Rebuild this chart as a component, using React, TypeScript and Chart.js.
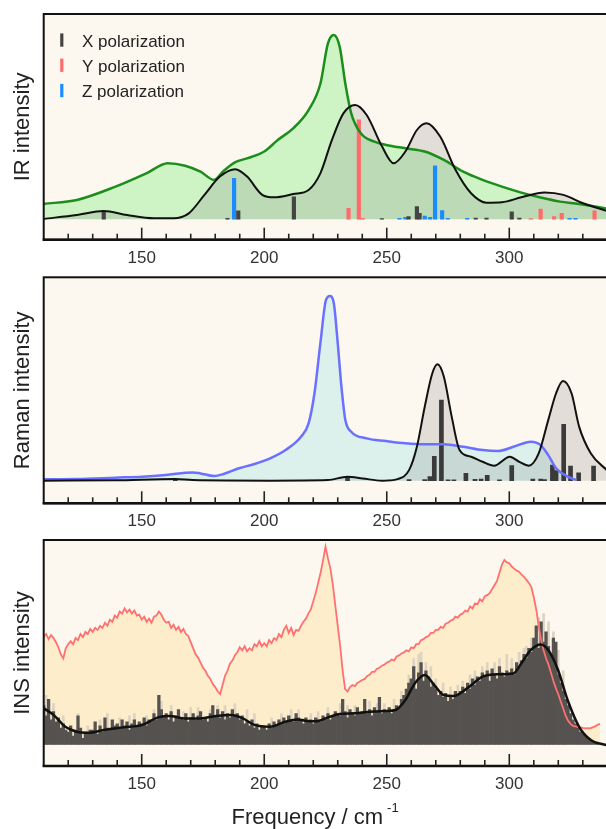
import React, { useEffect, useRef } from 'react';
import { Chart, registerables } from 'chart.js';

Chart.register(...registerables);

const FONT = "'Liberation Sans', Arial, Helvetica, sans-serif";
Chart.defaults.font.family = FONT;

// ---------- shared axis ----------
const X_MIN = 110;
const X_MAX = 340;
const tickLabels = [150, 200, 250, 300];

// ---------- IR panel ----------
const irExpX = [110, 123.5, 139.3, 151.9, 160.6, 167.7, 174, 179.5, 183.4, 188.2, 193, 200, 205.5, 211.8, 218.1, 222.9, 226, 228.4, 230.8, 233.1, 235.5, 239.4, 245, 249.8, 257.6, 265.5, 273.3, 281.2, 289.1, 297, 304.9, 312.8, 320.7, 328.5, 340];
const irExpY = [7.5, 9.4, 15.9, 22.4, 27.3, 26.1, 23.2, 19.2, 23.5, 27.8, 29.7, 33, 38.6, 44.3, 53.2, 66, 85.7, 89.8, 84, 66, 51.6, 41.9, 37.8, 36.2, 34.6, 33, 28.9, 23.2, 19.2, 15.9, 13, 10.6, 8.6, 7.5, 5.2];
const irCalcX = [110, 123.5, 134.5, 144, 155, 163, 169.2, 175.6, 181.9, 188.2, 193, 199.2, 204, 211.8, 218.1, 222.9, 227.6, 232.3, 237.1, 241.8, 248.1, 252.8, 257.6, 262.3, 266.2, 271.8, 278.1, 284.4, 290.7, 297, 304.9, 314.4, 322.1, 330.1, 340];
const irCalcY = [0.2, 2.1, 4.1, 2.1, 0.5, 0.5, 2.9, 11.9, 20.8, 24.4, 20.8, 11.9, 10.7, 12.3, 14.3, 22.4, 38.6, 51.6, 55.7, 50.8, 35.4, 27.3, 33, 43.5, 46.8, 40.3, 24, 12.7, 8.1, 8.3, 10.7, 13.1, 11.9, 7.8, 4];
const irXPolPos = [134.5, 185, 189.4, 212.1, 248, 258.9, 262.3, 263.4, 286.3, 290.7, 301, 304.1];
const irXPolInt = [3.7, 0.5, 4.1, 11, 0.3, 1.3, 6.2, 2.9, 0.6, 0.6, 3.6, 0.6];
const irYPolPos = [234.4, 238.6, 240.2, 308.8, 312.8, 318.3, 321.4, 334.8];
const irYPolInt = [5.4, 48.4, 0.5, 0.3, 5, 1.3, 2.9, 4.1];
const irZPolPos = [187.7, 255.2, 257.6, 265.5, 267.7, 269.7, 272.6, 274.9, 282.8, 324.6, 327];
const irZPolInt = [20, 0.5, 1, 1.6, 1, 26.1, 4.2, 0.5, 0.5, 0.5, 0.5];
const irLegend = ['X polarization', 'Y polarization', 'Z polarization'];

// ---------- Raman panel ----------
const ramanExpX = [110, 123.5, 139.3, 150.3, 159.8, 170.8, 174, 179.5, 183.4, 189.7, 196, 202.4, 208.7, 215, 218.1, 220.5, 222.9, 225.2, 226.8, 228.4, 230, 231.5, 233.1, 235.5, 241.8, 249.7, 257.6, 265.5, 273.3, 281.2, 289.1, 295.4, 301.7, 308.8, 312.8, 315.9, 319.1, 323.8, 327.5];
const ramanExpY = [0.7, 0.8, 1.5, 2, 2.8, 4.1, 3.6, 2.3, 3.3, 6.1, 8.2, 11, 15.1, 21.6, 28.2, 43, 67.5, 88.9, 90.8, 87.2, 67.5, 46.2, 29.8, 24.1, 20.8, 19.5, 18.4, 17.9, 17.9, 16.7, 15.1, 14.6, 16.7, 19.2, 17.5, 12.6, 6.1, 2, 0.3];
const ramanCalcX = [110, 139.3, 163.7, 170.8, 202.4, 226, 233.9, 240.2, 248.1, 254.4, 259.1, 262.3, 265.5, 268.6, 270.7, 273.3, 276.5, 279.7, 284.4, 289.1, 293.8, 300.2, 304.1, 308, 312, 315.9, 319.1, 321.9, 325.4, 328.5, 333.3, 340];
const ramanCalcY = [0, 0.2, 0.8, 0.3, 0, 0.3, 2, 1.1, 0, 0.8, 5.2, 16.7, 36.4, 52.8, 57.2, 51.1, 31.5, 15.1, 11.8, 9.3, 7.4, 11.8, 9.3, 7.4, 13.4, 29.8, 43, 49, 43, 26.6, 13.4, 5];
const ramanBarPos = [163.7, 234, 250.6, 259.1, 265.5, 267.6, 269.4, 272.3, 275, 277.4, 282.3, 286, 288.5, 291, 296, 301, 309.6, 312.8, 314.4, 317.6, 319.1, 322.2, 325, 328.3, 334.4];
const ramanBarInt = [0.7, 2, 0.3, 0.5, 0.6, 2, 12, 39.7, 0.4, 0.4, 3.6, 0.7, 0.8, 2.6, 0.4, 7.4, 0.8, 0.8, 0.5, 7.7, 5, 27.7, 7.2, 3.9, 7.2];

// ---------- INS panel ----------
const insExpStart = 110; // one point per cm-1
const insExpY = [
  52.7, 54, 51.5, 53.5, 52, 50, 47.5, 44, 42, 47,
  49, 50.5, 49, 52, 51, 54, 52.5, 55, 54, 56.5,
  55, 57, 56, 58, 57, 59.5, 58, 61, 60, 63,
  62, 65, 64, 66.5, 64.5, 66, 64, 65.5, 63, 63.5,
  61, 62.5, 60, 61.5, 59.5, 62.5, 63, 65, 63.5, 61,
  59.5, 60, 57, 58.5, 56, 57.5, 55, 56.5, 54, 53,
  50, 47, 44, 42.5, 40, 37.5, 36, 33.5, 32, 29.5,
  28, 26, 24.6, 29, 33.5, 36, 39.5, 41, 43.5, 45,
  47.5, 46, 48, 45.5, 47, 46, 49, 48, 50.5, 48,
  49.5, 48, 51, 49.5, 52, 51, 54, 52.5, 56, 58,
  54.5, 57, 53.5, 56, 55.5, 58, 60, 61.5, 64, 66,
  70, 74, 79, 84, 90, 96.7, 91, 86, 78, 68,
  58, 48, 36, 27, 25.8, 28, 29, 28.5, 30, 30.7,
  31.5, 32, 33.5, 34, 35.5, 35.5, 37, 37.5, 38.5, 39,
  40, 40.5, 41.5, 41, 43, 43.5, 44.5, 45, 46, 45.5,
  47.5, 47, 49, 49, 51, 51.5, 52.5, 53, 54.5, 54.5,
  56, 56, 57.5, 57, 59, 59.5, 60.5, 61, 62.5, 62,
  63.5, 64, 65.5, 65, 67.5, 66.5, 69, 68.5, 71, 70,
  72.5, 73, 74, 76, 78, 80, 84, 88, 90.2, 89,
  88.6, 87, 86, 85, 84.5, 83, 82, 80.5, 79, 77,
  72, 66, 58, 51, 46, 42, 39, 35, 31, 27.5,
  24.5, 21, 17.5, 14, 11.5, 10, 9, 8.8, 8.6, 8.3,
  8, 7.8, 7.9, 7.8, 8.3, 8.8, 9.5, 10,
];
const insBinStart = 110; // one histogram bin per cm-1
const insDarkBars = [
  19, 14, 22, 12, 16, 11, 13, 8, 10, 7,
  6, 9, 4, 7, 14, 8, 3, 6, 5, 7,
  7, 11, 5, 9, 6, 13, 8, 7, 12, 9,
  10, 8, 12, 9, 11, 7, 10, 12, 9, 11,
  10, 13, 9, 12, 11, 15, 12, 24, 17, 14,
  15, 12, 16, 11, 14, 17, 13, 12, 15, 11,
  13, 15, 12, 14, 16, 12, 13, 11, 15, 19,
  14, 17, 13, 16, 12, 15, 13, 17, 14, 15,
  12, 14, 10, 11, 9, 12, 8, 10, 7, 9,
  9, 7, 10, 8, 11, 9, 12, 10, 13, 11,
  14, 12, 11, 15, 13, 12, 10, 13, 11, 12,
  10, 13, 12, 11, 14, 13, 15, 12, 14, 16,
  15, 14, 22, 16, 13, 17, 15, 14, 18, 15,
  16, 22, 15, 17, 14, 18, 16, 23, 15, 17,
  16, 18, 15, 17, 19, 18, 22, 24, 27, 30,
  32, 38, 27, 35, 40, 31, 36, 33, 28, 30,
  27, 24, 26, 23, 25, 21, 24, 22, 26, 24,
  26, 28, 25, 30, 27, 32, 29, 33, 31, 35,
  33, 36, 31, 37, 34, 32, 38, 35, 33, 36,
  35, 37, 34, 40, 38, 41, 44, 42, 47, 45,
  52, 58, 47, 60, 50, 55, 48, 44, 52, 50,
  34, 30, 26, 22, 19, 15, 12, 10, 8, 6,
  5, 4, 3, 2, 1.5, 1, 0.5,
];
const insLightPos = [111, 114, 118, 124, 128, 133, 136, 141, 145, 147, 152, 155, 158, 162, 167, 170, 173, 178, 181, 184, 188, 193, 196, 203, 207, 211, 214, 219, 222, 226, 231, 234, 237, 243, 246, 249, 253, 256, 259, 261, 263, 264, 266, 268, 270, 273, 276, 279, 281, 284, 286, 289, 291, 294, 296, 299, 301, 304, 306, 307, 309, 312, 314, 316, 318, 320, 322];
const insLightInt = [24, 20, 14, 15, 9, 12, 15, 13, 14, 15, 14, 17, 21, 19, 16, 18, 18, 17, 19, 19, 20, 17, 15, 13, 15, 17, 17, 15, 16, 18, 20, 19, 19, 21, 20, 20, 22, 26, 34, 42, 44, 45, 40, 38, 32, 30, 28, 29, 31, 34, 36, 38, 40, 40, 42, 44, 42, 45, 47, 48, 52, 62, 64, 60, 55, 46, 36];
const insCalcX = [110, 114, 118.8, 123.5, 128.2, 134.5, 142.4, 150.3, 156.6, 161.4, 167.7, 174, 180.3, 186.6, 191.3, 196, 202.4, 208.7, 213.4, 216.6, 221.3, 226, 230.8, 237.1, 243.4, 249.7, 253.6, 257.6, 261.5, 265.5, 269.4, 273.3, 277.3, 282.8, 289.1, 295.4, 301.7, 304.9, 308.8, 312.8, 315.9, 319.9, 323.8, 328.5, 333.3, 340];
const insCalcY = [17.6, 14.4, 8.6, 6.2, 5.7, 7, 8.3, 9.5, 13.2, 13.9, 12.7, 12.7, 13.9, 14.4, 12.7, 9.5, 8.6, 11.1, 12.2, 11.6, 11.3, 13.2, 14.8, 15.2, 16, 16.3, 16.8, 21.7, 29.9, 33.9, 29, 24.1, 23.7, 27.4, 33.1, 34.3, 34.7, 39.6, 46.2, 48.9, 46.2, 36.4, 21.7, 8.6, 2.1, -0.5];

// ---------- helpers ----------
const pts = (xs: number[], ys: number[]) => xs.map((x, i) => ({ x, y: ys[i] }));
const seq = (start: number, ys: number[]) => ys.map((y, i) => ({ x: start + i, y }));

const CANVAS_W = 620;
const AREA_LEFT = 43.7;
const AREA_RIGHT = 607.3;
const BG = '#fdf8ef';

const COLORS = {
  black: '#111111',
  gray: 'rgba(120,120,120,0.2)',
  green: '#1b8e1b',
  greenFill: 'rgba(130,235,130,0.38)',
  blue: '#6a70ff',
  blueFill: 'rgba(175,232,232,0.42)',
  red: '#ff7070',
  redFill: 'rgba(255,222,150,0.42)',
  xPol: '#444444',
  yPol: '#ff6b6b',
  zPol: '#1a8cff',
  dark: '#555250',
  light: '#dcd3c2',
};

const lineFill = (data: any[], color: string, order: number) => ({
  type: 'line', data, fill: 'origin', backgroundColor: color, borderWidth: 0,
  borderColor: 'rgba(0,0,0,0)', pointRadius: 0, cubicInterpolationMode: 'monotone', order,
});
const lineStroke = (data: any[], color: string, width: number, order: number, smooth = true) => ({
  type: 'line', data, fill: false, borderColor: color, borderWidth: width, pointRadius: 0,
  cubicInterpolationMode: smooth ? 'monotone' : 'default', tension: 0, order,
});
const bars = (data: any[], color: string, thickness: number, order: number) => ({
  type: 'bar', data, backgroundColor: color, borderWidth: 0, barThickness: thickness,
  grouped: false, order,
});

type PanelDef = {
  top: number; height: number; areaTop: number; areaBottom: number;
  yMin: number; yMax: number; yTitle: string; legend?: boolean; xTitle?: boolean;
  datasets: any[];
};

const panels: PanelDef[] = [
  {
    top: 0, height: 270, areaTop: 14, areaBottom: 239.7, yMin: -9.94, yMax: 100,
    yTitle: 'IR intensity', legend: true,
    datasets: [
      lineFill(pts(irExpX, irExpY), COLORS.greenFill, 10),
      lineFill(pts(irCalcX, irCalcY), COLORS.gray, 9),
      bars(pts(irXPolPos, irXPolInt), COLORS.xPol, 3.5, 5),
      bars(pts(irYPolPos, irYPolInt), COLORS.yPol, 3.5, 5),
      bars(pts(irZPolPos, irZPolInt), COLORS.zPol, 3.5, 5),
      lineStroke(pts(irExpX, irExpY), COLORS.green, 2.5, 2),
      lineStroke(pts(irCalcX, irCalcY), COLORS.black, 2, 1),
    ],
  },
  {
    top: 270, height: 260, areaTop: 7.3, areaBottom: 233.3, yMin: -11.1, yMax: 100,
    yTitle: 'Raman intensity',
    datasets: [
      lineFill(pts(ramanExpX, ramanExpY), COLORS.blueFill, 10),
      lineFill(pts(ramanCalcX, ramanCalcY), COLORS.gray, 9),
      bars(pts(ramanBarPos, ramanBarInt), '#3a3a3a', 4, 5),
      lineStroke(pts(ramanExpX, ramanExpY), COLORS.blue, 2.5, 2),
      lineStroke(pts(ramanCalcX, ramanCalcY), COLORS.black, 2, 1),
    ],
  },
  {
    top: 530, height: 299, areaTop: 10, areaBottom: 236, yMin: -10.6, yMax: 100,
    yTitle: 'INS intensity', xTitle: true,
    datasets: [
      lineFill(seq(insExpStart, insExpY), COLORS.redFill, 10),
      bars(pts(insLightPos, insLightInt), COLORS.light, 2, 6),
      bars(seq(insBinStart, insDarkBars), COLORS.dark, 2.6, 5),
      lineStroke(seq(insExpStart, insExpY), COLORS.red, 1.8, 2, false),
      lineStroke(pts(insCalcX, insCalcY), COLORS.black, 2.5, 1),
    ],
  },
];

const decorPlugin = (def: PanelDef) => ({
  id: 'decor',
  beforeDraw(chart: any) {
    const { ctx, chartArea: a } = chart;
    ctx.save();
    ctx.fillStyle = BG;
    ctx.fillRect(a.left, a.top, a.right - a.left, a.bottom - a.top);
    ctx.restore();
  },
  afterDraw(chart: any) {
    const { ctx, chartArea: a } = chart;
    const x = chart.scales.x;
    ctx.save();
    // frame
    ctx.strokeStyle = '#111';
    ctx.lineWidth = 2;
    ctx.strokeRect(a.left, a.top, a.right - a.left, a.bottom - a.top);
    ctx.lineWidth = 2.6;
    ctx.beginPath();
    ctx.moveTo(a.left - 1, a.bottom);
    ctx.lineTo(a.right + 1, a.bottom);
    ctx.stroke();
    // inward tick marks
    ctx.lineWidth = 1.6;
    ctx.strokeStyle = '#222';
    for (let v = X_MIN + 10; v < X_MAX; v += 10) {
      const px = x.getPixelForValue(v);
      const len = v % 50 === 0 ? 12 : 6;
      ctx.beginPath();
      ctx.moveTo(px, a.bottom);
      ctx.lineTo(px, a.bottom - len);
      ctx.stroke();
    }
    // y title
    ctx.fillStyle = '#222';
    ctx.font = `22px ${FONT}`;
    ctx.textAlign = 'center';
    ctx.textBaseline = 'alphabetic';
    ctx.save();
    ctx.translate(29, (a.top + a.bottom) / 2);
    ctx.rotate(-Math.PI / 2);
    ctx.fillText(def.yTitle, 0, 0);
    ctx.restore();
    // legend
    if (def.legend) {
      const cols = [COLORS.xPol, COLORS.yPol, COLORS.zPol];
      const base = [46.7, 71.9, 97.2];
      ctx.font = `17px ${FONT}`;
      ctx.textAlign = 'left';
      irLegend.forEach((t, i) => {
        const y = base[i] - def.top;
        ctx.fillStyle = cols[i];
        ctx.fillRect(60.2, y - 13.3, 3.2, 13.3);
        ctx.fillStyle = '#222';
        ctx.fillText(t, 82, y);
      });
    }
    // x title
    if (def.xTitle) {
      ctx.font = `22px ${FONT}`;
      ctx.textAlign = 'left';
      ctx.fillStyle = '#222';
      const main = 'Frequency / cm';
      const left = 231.5;
      ctx.fillText(main, left, 824.3 - def.top);
      const w = ctx.measureText(main).width;
      ctx.font = `13px ${FONT}`;
      ctx.fillText('-1', left + w + 4, 811.5 - def.top);
    }
    ctx.restore();
  },
});

function buildConfig(def: PanelDef): any {
  return {
    type: 'line',
    data: { datasets: def.datasets },
    options: {
      animation: false,
      responsive: false,
      maintainAspectRatio: false,
      events: [],
      layout: { padding: { left: AREA_LEFT, right: CANVAS_W - AREA_RIGHT, top: def.areaTop, bottom: 0 } },
      plugins: { legend: { display: false }, tooltip: { enabled: false } },
      scales: {
        x: {
          type: 'linear', min: X_MIN, max: X_MAX, offset: false,
          grid: { display: false, drawTicks: false },
          border: { display: false },
          ticks: {
            autoSkip: false, maxRotation: 0, padding: 8, color: '#333',
            font: { size: 17, family: FONT },
            callback: (v: number) => String(v),
          },
          afterBuildTicks: (s: any) => { s.ticks = tickLabels.map((v) => ({ value: v })); },
          afterFit: (s: any) => { s.height = def.height - def.areaBottom; },
        },
        y: { type: 'linear', min: def.yMin, max: def.yMax, display: false },
      },
    },
    plugins: [decorPlugin(def)],
  };
}

function Panel({ def }: { def: PanelDef }) {
  const ref = useRef<HTMLCanvasElement>(null);
  useEffect(() => {
    const chart = new Chart(ref.current as HTMLCanvasElement, buildConfig(def));
    return () => chart.destroy();
  }, [def]);
  return (
    <canvas
      ref={ref}
      width={CANVAS_W}
      height={def.height}
      style={{ position: 'absolute', left: 0, top: def.top, width: CANVAS_W, height: def.height, display: 'block' }}
    />
  );
}

export default function App() {
  return (
    <div style={{ position: 'absolute', left: 0, top: 0, width: 606, height: 829, overflow: 'hidden', background: '#ffffff' }}>
      {panels.map((p, i) => <Panel key={i} def={p} />)}
    </div>
  );
}
